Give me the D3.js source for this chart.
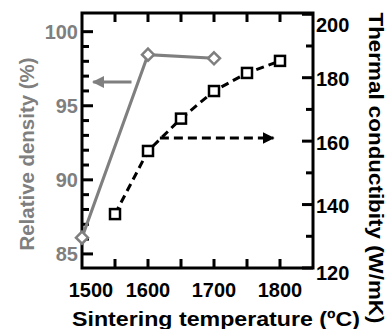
<!DOCTYPE html>
<html>
<head>
<meta charset="utf-8">
<script src="https://cdn.jsdelivr.net/npm/d3@7"></script>
<style>
  body { margin: 0; background: #fff; }
  svg { display: block; font-family: "Liberation Sans", Arial, sans-serif; font-weight: bold; }
</style>
</head>
<body>
<svg id="chart" width="387" height="329"></svg>
<script>
"use strict";

// data
var densityTemps = [1500, 1600, 1700];
var densityValues = [86.1, 98.45, 98.2];

var condTemps = [1550, 1600, 1650, 1700, 1750, 1800];
var condValues = [137.0, 156.9, 167.1, 175.8, 181.5, 185.3];

var xTickLabels = [1500, 1600, 1700, 1800];
var xTicks = [1550, 1600, 1650, 1700, 1750, 1800];
var leftMajor = [85, 90, 95, 100];
var leftMinor = [86, 87, 88, 89, 91, 92, 93, 94, 96, 97, 98, 99];
var rightMajor = [120, 140, 160, 180, 200];
var rightMinor = [130, 150, 170, 190];

// arrows: [x, y] start and end in data units
var densityArrow = [[1575, 96.6], [1517, 96.6]];
var condArrow = [[1618, 161], [1790, 161]];

var gray = "#7f7f7f";

var margin = {left: 82, top: 13, right: 74, bottom: 61};
var W = 387 - margin.left - margin.right;
var H = 329 - margin.top - margin.bottom;

var svg = d3.select("#chart");
var g = svg.append("g").attr("transform", "translate(" + margin.left + "," + margin.top + ")");

var x = d3.scaleLinear().domain([1500, 1850]).range([0, W]);
var yL = d3.scaleLinear().domain([84.05, 101.26]).range([H, 0]);
var yR = d3.scaleLinear().domain([120, 200.4]).range([H, 0]);

var defs = svg.append("defs");
defs.append("marker").attr("id", "headGray")
	.attr("viewBox", "0 0 10 10").attr("refX", 9).attr("refY", 5)
	.attr("markerWidth", 4).attr("markerHeight", 4).attr("markerUnits", "strokeWidth")
	.attr("orient", "auto")
  .append("path").attr("d", "M0,0L10,5L0,10Z").attr("fill", gray);
defs.append("marker").attr("id", "headBlack")
	.attr("viewBox", "0 0 10 10").attr("refX", 9).attr("refY", 5)
	.attr("markerWidth", 4).attr("markerHeight", 4).attr("markerUnits", "strokeWidth")
	.attr("orient", "auto")
  .append("path").attr("d", "M0,0L10,5L0,10Z").attr("fill", "#000");

// frame
g.append("rect").attr("width", W).attr("height", H)
	.attr("fill", "none").attr("stroke", "#000").attr("stroke-width", 3);

// inward ticks as small filled rects
function tickRects(vals, pos) {
	g.append("g").selectAll("rect").data(vals).enter().append("rect")
		.attr("x", function(d){ return pos(d)[0]; })
		.attr("y", function(d){ return pos(d)[1]; })
		.attr("width", function(d){ return pos(d)[2]; })
		.attr("height", function(d){ return pos(d)[3]; })
		.attr("fill", "#000");
}
tickRects(xTicks, function(d){ return [x(d) - 1.5, H - 9, 3, 9]; });
tickRects(xTicks, function(d){ return [x(d) - 1.5, 0, 3, 9]; });
tickRects(leftMajor, function(d){ return [0, yL(d) - 1.5, 11, 3]; });
tickRects(leftMinor, function(d){ return [0, yL(d) - 1.5, 7, 3]; });
tickRects(rightMajor, function(d){ return [W - 11, yR(d) - 1.5, 11, 3]; });
tickRects(rightMinor, function(d){ return [W - 7, yR(d) - 1.5, 7, 3]; });

// tick labels
g.append("g").selectAll("text").data(xTickLabels).enter().append("text")
	.attr("x", function(d){ return x(d) + (d == 1500 ? 9 : 0); })
	.attr("y", H + 29)
	.attr("text-anchor", "middle")
	.attr("font-size", 20)
	.attr("fill", "#000")
	.text(function(d){ return d; });

g.append("g").selectAll("text").data(leftMajor).enter().append("text")
	.attr("x", -4)
	.attr("y", function(d){ return yL(d); })
	.attr("dy", "0.36em")
	.attr("text-anchor", "end")
	.attr("font-size", 20)
	.attr("fill", gray)
	.text(function(d){ return d; });

g.append("g").selectAll("text").data(rightMajor).enter().append("text")
	.attr("x", W + 3)
	.attr("y", function(d){ return yR(d); })
	.attr("dy", function(d){ return d == 200 ? "0.9em" : (d == 120 ? "0.6em" : "0.42em"); })
	.attr("font-size", 20)
	.attr("fill", "#000")
	.text(function(d){ return d; });

// thermal conductivity (dashed, squares)
var condData = condTemps.map(function(t, i){ return {t: t, v: condValues[i]}; });
g.append("path").datum(condData)
	.attr("fill", "none").attr("stroke", "#000").attr("stroke-width", 3)
	.attr("stroke-dasharray", "8,5")
	.attr("d", d3.line().x(function(d){ return x(d.t); }).y(function(d){ return yR(d.v); }));
g.selectAll(".sq").data(condData).enter().append("rect")
	.attr("class", "sq")
	.attr("x", function(d){ return x(d.t) - 5; })
	.attr("y", function(d){ return yR(d.v) - 5; })
	.attr("width", 10).attr("height", 10)
	.attr("fill", "#fff").attr("stroke", "#000").attr("stroke-width", 2.5);

// relative density (solid gray, diamonds)
var densData = densityTemps.map(function(t, i){ return {t: t, v: densityValues[i]}; });
g.append("path").datum(densData)
	.attr("fill", "none").attr("stroke", gray).attr("stroke-width", 3)
	.attr("d", d3.line().x(function(d){ return x(d.t); }).y(function(d){ return yL(d.v); }));
g.selectAll(".dm").data(densData).enter().append("path")
	.attr("class", "dm")
	.attr("transform", function(d){ return "translate(" + x(d.t) + "," + yL(d.v) + ")"; })
	.attr("d", "M0,-6L6,0L0,6L-6,0Z")
	.attr("fill", "#fff").attr("stroke", gray).attr("stroke-width", 2.5);

// arrows
g.append("line")
	.attr("x1", x(densityArrow[0][0])).attr("y1", yL(densityArrow[0][1]))
	.attr("x2", x(densityArrow[1][0])).attr("y2", yL(densityArrow[1][1]))
	.attr("stroke", gray).attr("stroke-width", 3)
	.attr("marker-end", "url(#headGray)");
g.append("line")
	.attr("x1", x(condArrow[0][0])).attr("y1", yR(condArrow[0][1]))
	.attr("x2", x(condArrow[1][0])).attr("y2", yR(condArrow[1][1]))
	.attr("stroke", "#000").attr("stroke-width", 3)
	.attr("stroke-dasharray", "9,5")
	.attr("marker-end", "url(#headBlack)");

// axis titles
svg.append("text")
	.attr("transform", "translate(34,154) rotate(-90)")
	.attr("text-anchor", "middle")
	.attr("font-size", 20)
	.attr("fill", gray)
	.attr("textLength", 193).attr("lengthAdjust", "spacingAndGlyphs")
	.text("Relative density (%)");

svg.append("text")
	.attr("transform", "translate(369,168) rotate(90)")
	.attr("text-anchor", "middle")
	.attr("font-size", 20)
	.attr("fill", "#000")
	.attr("textLength", 311).attr("lengthAdjust", "spacingAndGlyphs")
	.text("Thermal conductibity (W/mK)");

svg.append("text")
	.attr("x", 72).attr("y", 326)
	.attr("font-size", 20)
	.attr("fill", "#000")
	.attr("textLength", 288).attr("lengthAdjust", "spacingAndGlyphs")
	.text("Sintering temperature  (ºC)");
</script>
</body>
</html>
